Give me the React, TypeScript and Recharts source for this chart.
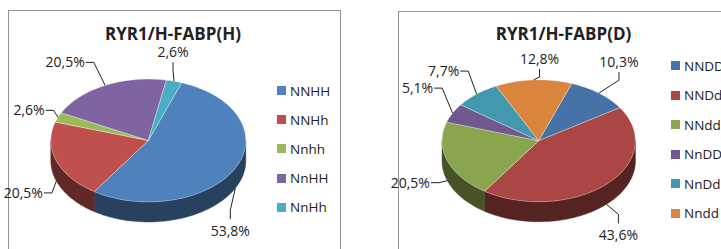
import React from "react";
import { PieChart, Pie, Cell, Legend } from "recharts";

const H_NAMES = ["NNHH", "NNHh", "Nnhh", "NnHH", "NnHh"];
const H_VALUES = [53.8, 20.5, 2.6, 20.5, 2.6];
const H_COLORS = ["#4F81BD", "#C0504D", "#9BBB59", "#8064A2", "#4BACC6"];

const D_NAMES = ["NNDD", "NNDd", "NNdd", "NnDD", "NnDd", "Nndd"];
const D_VALUES = [10.3, 43.6, 20.5, 5.1, 7.7, 12.8];
const D_COLORS = ["#4572A7", "#AA4643", "#89A54E", "#71588F", "#4198AF", "#DB843D"];

// where each value label sits relative to its slice's rim point: [dx, dy, leader]
const H_LABEL_POS: [number, number, string][] = [
  [-5, 43, "v"],
  [-33, 12, "h"],
  [-29, -7, "h"],
  [-40, -23, "h"],
  [-1, -29, "v"],
];
const D_LABEL_POS: [number, number, string][] = [
  [20, -31, "v"],
  [12, 31, "v"],
  [-37, 2, "h"],
  [-35, -25, "h"],
  [-33, -23, "h"],
  [6, -21, "v"],
];

const FONT = "'Open Sans', 'DejaVu Sans', sans-serif";
const TILT = 0.63;
const DEPTH = 20;

const toTable = (names: string[], values: number[]) =>
  names.map((name, i) => ({ name, value: values[i] }));

function darken(hex: string, k: number) {
  const n = parseInt(hex.slice(1), 16);
  const r = Math.round(((n >> 16) & 255) * k);
  const g = Math.round(((n >> 8) & 255) * k);
  const b = Math.round((n & 255) * k);
  return `rgb(${r},${g},${b})`;
}

function pt(cx: number, cy: number, rx: number, ry: number, a: number) {
  const r = (a * Math.PI) / 180;
  return [cx + rx * Math.cos(r), cy - ry * Math.sin(r)];
}

function arc(cx: number, cy: number, rx: number, ry: number, a1: number, a2: number) {
  const n = Math.max(2, Math.ceil(Math.abs(a2 - a1) / 2));
  const out: string[] = [];
  for (let i = 0; i <= n; i++) {
    const [x, y] = pt(cx, cy, rx, ry, a1 + ((a2 - a1) * i) / n);
    out.push(`${x.toFixed(2)},${y.toFixed(2)}`);
  }
  return out;
}

// 3D-looking slice: front wall first, then the elliptical top face
function Slice3D(props: any) {
  const { cx, cy, outerRadius, startAngle, endAngle, fill } = props;
  const rx = outerRadius;
  const ry = outerRadius * TILT;
  const lo = Math.min(startAngle, endAngle);
  const hi = Math.max(startAngle, endAngle);
  const walls: string[] = [];
  for (let k = Math.floor(lo / 360) - 1; k <= Math.ceil(hi / 360) + 1; k++) {
    const a1 = Math.max(lo, 180 + 360 * k);
    const a2 = Math.min(hi, 360 + 360 * k);
    if (a2 > a1) {
      const top = arc(cx, cy, rx, ry, a1, a2);
      const bottom = arc(cx, cy + DEPTH, rx, ry, a2, a1);
      walls.push(`M${top.join("L")}L${bottom.join("L")}Z`);
    }
  }
  const face = `M${cx},${cy}L${arc(cx, cy, rx, ry, startAngle, endAngle).join("L")}Z`;
  return (
    <g>
      {walls.map((d, i) => (
        <path key={i} d={d} fill={darken(fill, 0.5)} stroke={darken(fill, 0.5)} strokeWidth={0.5} />
      ))}
      <path d={face} fill={fill} stroke="rgba(255,255,255,0.45)" strokeWidth={0.7} />
    </g>
  );
}

let ctx: CanvasRenderingContext2D | null = null;
function textWidth(s: string) {
  if (!ctx) ctx = document.createElement("canvas").getContext("2d");
  if (!ctx) return s.length * 8;
  ctx.font = `14px ${FONT}`;
  return ctx.measureText(s).width;
}

const makeLabel = (pos: [number, number, string][]) => (props: any) => {
  const { cx, cy, midAngle, outerRadius, index, value } = props;
  const rx = outerRadius;
  const ry = outerRadius * TILT;
  const [ax, ay0] = pt(cx, cy, rx, ry, midAngle);
  const front = Math.sin((midAngle * Math.PI) / 180) < 0;
  const ay = ay0 + (front ? DEPTH : 0);
  const [dx, dy, kind] = pos[index];
  const lx = ax + dx;
  const ly = ay + dy;
  const txt = `${value.toFixed(1).replace(".", ",")}%`;
  const w = textWidth(txt);
  let pts: number[][];
  if (kind === "h") {
    const sx = dx < 0 ? lx + w / 2 + 1 : lx - w / 2 - 1;
    const ex = dx < 0 ? sx + 8 : sx - 8;
    pts = [[sx, ly], [ex, ly], [ax, ay]];
  } else {
    const s = dy > 0 ? ly - 12 : ly + 10;
    const e = dy > 0 ? ly - 21 : ly + 18;
    pts = [[lx, s], [lx, e], [ax, ay]];
  }
  return (
    <g>
      <polyline points={pts.map((p) => p.join(",")).join(" ")} fill="none" stroke="#222" strokeWidth={1} />
      <text x={lx} y={ly + 5} textAnchor="middle" fontFamily={FONT} fontSize={14} fill="#222">
        {txt}
      </text>
    </g>
  );
};

const makeLegend = (names: string[], colors: string[], rowH: number) => () => (
  <div style={{ fontFamily: FONT, fontSize: 13.5, color: "#222", whiteSpace: "nowrap" }}>
    {names.map((n, i) => (
      <div key={n} style={{ display: "flex", alignItems: "center", height: rowH }}>
        <span style={{ width: 9, height: 9, background: colors[i], marginRight: 4, display: "inline-block" }} />
        {n}
      </div>
    ))}
  </div>
);

const titleStyle = (left: number): React.CSSProperties => ({
  position: "absolute",
  left,
  top: 25,
  width: 200,
  textAlign: "center",
  fontFamily: FONT,
  fontWeight: 700,
  fontSize: 17,
  lineHeight: "17px",
  color: "#222",
});

export default function App() {
  const hData = toTable(H_NAMES, H_VALUES);
  const dData = toTable(D_NAMES, D_VALUES);
  return (
    <div style={{ position: "fixed", left: 0, top: 0, width: 721, height: 249, overflow: "hidden", background: "#fff" }}>
      <div style={{ position: "absolute", left: 8, top: 10, width: 331, height: 260, border: "1px solid #929292" }} />
      <div style={{ position: "absolute", left: 398, top: 11, width: 400, height: 260, border: "1px solid #929292" }} />

      <div style={{ position: "absolute", left: 0, top: 0 }}>
        <PieChart width={360} height={249} margin={{ top: 0, right: 0, bottom: 0, left: 0 }}>
          <Pie
            data={hData}
            dataKey="value"
            nameKey="name"
            cx={148.3}
            cy={140.5}
            outerRadius={97.5}
            startAngle={70}
            endAngle={-290}
            isAnimationActive={false}
            shape={Slice3D}
            activeShape={Slice3D}
            inactiveShape={Slice3D}
            label={makeLabel(H_LABEL_POS)}
            labelLine={false}
          >
            {H_COLORS.map((c) => (
              <Cell key={c} fill={c} />
            ))}
          </Pie>
          <Legend
            layout="vertical"
            align="right"
            verticalAlign="middle"
            content={makeLegend(H_NAMES, H_COLORS, 29.2)}
            wrapperStyle={{ left: 277, top: 76, right: "auto", bottom: "auto", width: 80 }}
          />
        </PieChart>
        <div style={titleStyle(73)}>RYR1/H-FABP(H)</div>
      </div>

      <div style={{ position: "absolute", left: 360, top: 0 }}>
        <PieChart width={361} height={249} margin={{ top: 0, right: 0, bottom: 0, left: 0 }}>
          <Pie
            data={dData}
            dataKey="value"
            nameKey="name"
            cx={178.7}
            cy={140.8}
            outerRadius={96.7}
            startAngle={70}
            endAngle={-290}
            isAnimationActive={false}
            shape={Slice3D}
            activeShape={Slice3D}
            inactiveShape={Slice3D}
            label={makeLabel(D_LABEL_POS)}
            labelLine={false}
          >
            {D_COLORS.map((c) => (
              <Cell key={c} fill={c} />
            ))}
          </Pie>
          <Legend
            layout="vertical"
            align="right"
            verticalAlign="middle"
            content={makeLegend(D_NAMES, D_COLORS, 29.5)}
            wrapperStyle={{ left: 311, top: 51, right: "auto", bottom: "auto", width: 80 }}
          />
        </PieChart>
        <div style={titleStyle(103.5)}>RYR1/H-FABP(D)</div>
      </div>
    </div>
  );
}
